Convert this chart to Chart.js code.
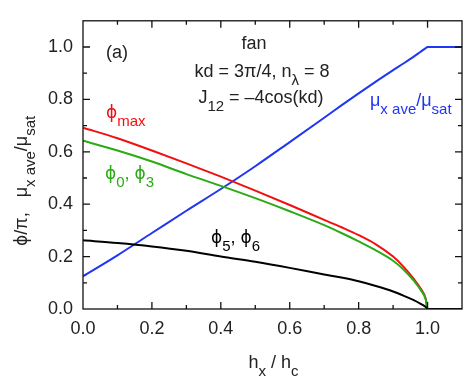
<!DOCTYPE html>
<html><head><meta charset="utf-8">
<script src="https://cdn.jsdelivr.net/npm/chart.js@4/dist/chart.umd.min.js"></script>
<style>html,body{margin:0;padding:0;background:#fff}#wrap{width:471px;height:386px}</style>
</head><body><div id="wrap"><canvas id="c" width="471" height="386"></canvas></div>
<script>
// ---- data ----
const hx      = [0, 0.1, 0.2, 0.3, 0.4, 0.5, 0.6, 0.7, 0.75, 0.8, 0.85, 0.9, 0.93, 0.96, 0.98, 0.995, 1.0, 1.1];
const phiMax  = [0.692, 0.652, 0.605, 0.556, 0.505, 0.452, 0.397, 0.340, 0.312, 0.282, 0.247, 0.200, 0.162, 0.115, 0.078, 0.038, 0, 0];
const phi03   = [0.642, 0.605, 0.563, 0.515, 0.470, 0.423, 0.373, 0.320, 0.290, 0.258, 0.224, 0.184, 0.151, 0.108, 0.073, 0.035, 0, 0];
const phi56   = [0.262, 0.252, 0.239, 0.222, 0.200, 0.180, 0.157, 0.132, 0.120, 0.106, 0.088, 0.067, 0.051, 0.034, 0.020, 0.008, 0, 0];
const muRatio = [0.125, 0.205, 0.290, 0.375, 0.458, 0.545, 0.637, 0.730, 0.777, 0.823, 0.868, 0.912, 0.937, 0.963, 0.982, 0.996, 1.0, 1.0];
const xTickLabels = ['0.0', '0.2', '0.4', '0.6', '0.8', '1.0'];
const yTickLabels = ['0.0', '0.2', '0.4', '0.6', '0.8', '1.0'];

const RED = '#f01010', GREEN = '#2aaa14', BLUE = '#2036f0', BLACK = '#000000';
const FAM = '"Liberation Sans", Arial, Helvetica, sans-serif';
const PHI_FAM = '"DejaVu Sans", sans-serif';

function pts(ys) { return hx.map((x, i) => ({x: x, y: ys[i]})); }
function tickLabel(labels) {
  return function (v) {
    const k = Math.round(v * 10);
    if (k % 2 !== 0) return '';
    return labels[k / 2] !== undefined ? labels[k / 2] : '';
  };
}

// parts: [text, isSub, isPhiGlyph]
function rich(ctx, x, y, parts, align, color, rot) {
  ctx.save();
  ctx.translate(x, y);
  if (rot) ctx.rotate(rot);
  ctx.fillStyle = color;
  ctx.textBaseline = 'alphabetic';
  const fontOf = p => p[2] ? ('17px ' + PHI_FAM) : ((p[1] ? '15px ' : '18px ') + FAM);
  let w = 0;
  for (const p of parts) { ctx.font = fontOf(p); w += ctx.measureText(p[0]).width; }
  let cx = align === 'center' ? -w / 2 : (align === 'right' ? -w : 0);
  for (const p of parts) {
    ctx.font = fontOf(p);
    ctx.fillText(p[0], cx, p[1] ? 8 : 0);
    cx += ctx.measureText(p[0]).width;
  }
  ctx.restore();
}

const PHI = '\u03D5';

const decor = {
  id: 'decor',
  afterDraw(chart) {
    const {ctx, chartArea: a, scales: {x, y}} = chart;
    ctx.save();
    ctx.strokeStyle = '#111';
    ctx.lineWidth = 1.3;
    ctx.strokeRect(a.left, a.top, a.right - a.left, a.bottom - a.top);
    ctx.beginPath();
    for (let i = 1; i <= 10; i++) {
      const v = i / 10, len = (i % 2 === 0) ? 7 : 4;
      const px = x.getPixelForValue(v);
      ctx.moveTo(px, a.bottom); ctx.lineTo(px, a.bottom - len);
      ctx.moveTo(px, a.top); ctx.lineTo(px, a.top + len);
      const py = y.getPixelForValue(v);
      ctx.moveTo(a.left, py); ctx.lineTo(a.left + len, py);
      ctx.moveTo(a.right, py); ctx.lineTo(a.right - len, py);
    }
    ctx.stroke();
    ctx.restore();

    const T = '#222';
    // axis titles
    rich(ctx, (a.left + a.right) / 2 + 1, 368, [['h', 0], ['x', 1], [' / h', 0], ['c', 1]], 'center', T);
    rich(ctx, 27, 246, [[PHI, 0, 1], ['/\u03C0,', 0], ['   ', 0], ['\u03BC', 0], ['x ave', 1], ['/\u03BC', 0], ['sat', 1]], 'left', T, -Math.PI / 2);
    // annotations
    rich(ctx, 106, 58, [['(a)', 0]], 'left', T);
    rich(ctx, 254, 49, [['fan', 0]], 'center', T);
    rich(ctx, 262, 77, [['kd = 3\u03C0/4, n', 0], ['\u03BB', 1], [' = 8', 0]], 'center', T);
    rich(ctx, 261, 103, [['J', 0], ['12', 1], [' = \u20134cos(kd)', 0]], 'center', T);
    rich(ctx, 370, 106, [['\u03BC', 0], ['x ave', 1], ['/\u03BC', 0], ['sat', 1]], 'left', BLUE);
    rich(ctx, 106, 118, [[PHI, 0, 1], ['max', 1]], 'left', RED);
    rich(ctx, 105, 179, [[PHI, 0, 1], ['0', 1], [', ', 0], [PHI, 0, 1], ['3', 1]], 'left', GREEN);
    rich(ctx, 211, 243, [[PHI, 0, 1], ['5', 1], [', ', 0], [PHI, 0, 1], ['6', 1]], 'left', BLACK);
  }
};

const line = (data, color) => ({data: pts(data), borderColor: color, borderWidth: 2, pointRadius: 0,
  cubicInterpolationMode: 'monotone', fill: false});

new Chart(document.getElementById('c'), {
  type: 'line',
  data: {
    datasets: [
      line(phi56, BLACK),
      line(phi03, GREEN),
      line(phiMax, RED),
      line(muRatio, BLUE)
    ]
  },
  options: {
    responsive: false,
    animation: false,
    devicePixelRatio: 1,
    layout: {padding: {top: 16, right: 6, left: 0, bottom: 0}},
    plugins: {legend: {display: false}, tooltip: {enabled: false}},
    scales: {
      x: {
        type: 'linear', min: 0, max: 1.1,
        grid: {display: false, drawTicks: false},
        border: {display: false},
        ticks: {stepSize: 0.1, autoSkip: false, maxRotation: 0, padding: 9,
          color: '#222', font: {family: FAM, size: 18}, callback: tickLabel(xTickLabels)},
        afterFit(s) { s.height = 77; }
      },
      y: {
        type: 'linear', min: 0, max: 1.1,
        grid: {display: false, drawTicks: false},
        border: {display: false},
        ticks: {stepSize: 0.1, autoSkip: false, padding: 10,
          color: '#222', font: {family: FAM, size: 18}, callback: tickLabel(yTickLabels)},
        afterFit(s) { s.width = 83; }
      }
    }
  },
  plugins: [decor]
});
</script>
</body></html>
